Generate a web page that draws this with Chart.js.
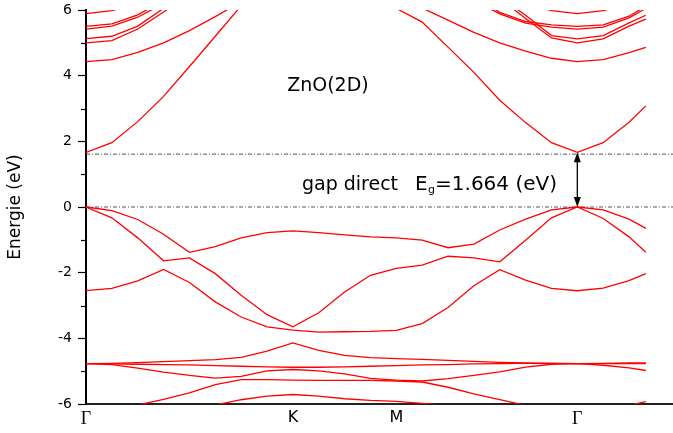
<!DOCTYPE html>
<html>
<head>
<meta charset="utf-8">
<script src="https://cdn.jsdelivr.net/npm/chart.js@4.4.1/dist/chart.umd.min.js"></script>
<style>
  html, body { margin: 0; padding: 0; background: #fff; }
  #wrap { width: 673px; height: 433px; position: relative; }
</style>
</head>
<body>
<div id="wrap"><canvas id="bands"></canvas></div>
<script>
// k-path sample points: Γ(0) -> K(8) -> M(12) -> Γ(19) -> a little past Γ
const kPath = [0, 1, 2, 3, 4, 5, 6, 7, 8, 9, 10, 11, 12, 13, 14, 15, 16, 17, 18, 19, 20, 21, 21.65];
const kTicks = [0, 8, 12, 19];
const kLabels = ['Γ', 'K', 'M', 'Γ'];
const gapEnergy = 1.664;
const gapRefLine = 1.61;

// valence bands
const vb1 = [0, -0.11, -0.38, -0.83, -1.38, -1.21, -0.94, -0.78, -0.73, -0.78, -0.85, -0.91, -0.94, -1.01, -1.24, -1.13, -0.70, -0.37, -0.09, 0, -0.09, -0.37, -0.65];
const vb2 = [0, -0.33, -0.94, -1.64, -1.55, -2.03, -2.69, -3.28, -3.65, -3.22, -2.59, -2.08, -1.87, -1.77, -1.50, -1.55, -1.67, -1.01, -0.33, 0, -0.35, -0.91, -1.38];
const vb3 = [-2.55, -2.48, -2.25, -1.90, -2.30, -2.89, -3.35, -3.65, -3.75, -3.81, -3.80, -3.79, -3.76, -3.55, -3.06, -2.40, -1.91, -2.23, -2.48, -2.55, -2.47, -2.24, -2.03];
const vb4 = [-4.77, -4.76, -4.74, -4.71, -4.68, -4.65, -4.58, -4.39, -4.14, -4.37, -4.52, -4.59, -4.62, -4.64, -4.67, -4.70, -4.73, -4.75, -4.76, -4.77, -4.77, -4.77, -4.77];
const vb5 = [-4.77, -4.78, -4.79, -4.80, -4.81, -4.83, -4.85, -4.87, -4.88, -4.88, -4.87, -4.85, -4.83, -4.81, -4.80, -4.78, -4.77, -4.76, -4.76, -4.77, -4.76, -4.75, -4.75];
const vb6 = [-4.77, -4.80, -4.91, -5.03, -5.13, -5.21, -5.16, -4.99, -4.95, -4.99, -5.08, -5.22, -5.27, -5.30, -5.23, -5.13, -5.02, -4.88, -4.79, -4.77, -4.82, -4.90, -4.98];
const vb7 = [-6.35, -6.20, -6.03, -5.86, -5.66, -5.41, -5.26, -5.26, -5.27, -5.28, -5.28, -5.28, -5.30, -5.33, -5.49, -5.69, -5.87, -6.04, -6.20, -6.30, -6.18, -6.04, -5.93];
const vb8 = [-6.60, -6.55, -6.48, -6.38, -6.20, -6.03, -5.87, -5.76, -5.71, -5.76, -5.84, -5.89, -5.92, -5.98, -6.05, -6.15, -6.25, -6.35, -6.45, -6.50, -6.45, -6.40, -6.35];

// conduction bands
const cb1 = [1.664, 1.96, 2.60, 3.37, 4.28, 5.20, 6.13, 6.90, 7.30, 7.20, 7.00, 6.60, 6.05, 5.63, 4.87, 4.10, 3.25, 2.57, 1.96, 1.664, 1.96, 2.58, 3.08];
const cb2 = [4.43, 4.49, 4.71, 5.00, 5.37, 5.80, 6.25, 6.70, 7.00, 7.00, 6.90, 6.70, 6.45, 6.06, 5.69, 5.32, 5.00, 4.75, 4.53, 4.43, 4.49, 4.70, 4.86];
const cb3 = [5.00, 5.07, 5.42, 5.94, 6.50, 7.00, 7.40, 7.70, 7.80, 7.70, 7.60, 7.50, 7.40, 7.20, 7.00, 6.80, 6.35, 5.74, 5.15, 5.00, 5.12, 5.51, 5.72];
const cb4 = [5.13, 5.20, 5.51, 6.05, 6.60, 7.10, 7.50, 7.80, 7.90, 7.80, 7.70, 7.60, 7.50, 7.30, 7.10, 6.90, 6.40, 5.84, 5.22, 5.12, 5.22, 5.61, 5.84];
const cb5 = [5.42, 5.51, 5.78, 6.20, 6.60, 7.00, 7.30, 7.50, 7.60, 7.50, 7.40, 7.20, 7.00, 6.80, 6.60, 6.30, 5.88, 5.60, 5.48, 5.42, 5.48, 5.76, 6.05];
const cb6 = [5.50, 5.58, 5.85, 6.30, 6.70, 7.10, 7.40, 7.60, 7.70, 7.60, 7.50, 7.30, 7.10, 6.90, 6.70, 6.40, 5.93, 5.65, 5.55, 5.50, 5.55, 5.81, 6.12];
const cb7 = [5.89, 5.98, 6.20, 6.50, 6.80, 7.10, 7.40, 7.60, 7.80, 7.70, 7.60, 7.40, 7.20, 7.00, 6.80, 6.60, 6.40, 6.20, 5.98, 5.89, 5.98, 6.20, 6.40];

const bands = [vb1, vb2, vb3, vb4, vb5, vb6, vb7, vb8, cb1, cb2, cb3, cb4, cb5, cb6, cb7];

const X_MAX = 22.7;
const SANS = '"DejaVu Sans", sans-serif';

const bandSets = bands.map(b => ({
    data: b.map((e, i) => ({ x: kPath[i], y: e })),
    borderColor: '#ff0000',
    borderWidth: 1.3,
    pointRadius: 0,
    tension: 0,
    order: 1
}));

const refLine = (y) => ({
    data: [{ x: 0, y: y }, { x: X_MAX, y: y }],
    borderColor: '#555555',
    borderWidth: 1,
    borderDash: [4, 2, 1, 2],
    pointRadius: 0,
    order: 2
});

// minor ticks on the energy axis + labels and the gap arrow
const decorations = {
    id: 'decorations',
    afterDatasetsDraw(chart) {
        const { ctx, scales: { x, y } } = chart;
        ctx.save();

        // minor ticks
        ctx.strokeStyle = '#000';
        ctx.lineWidth = 1.2;
        for (let v = -5; v <= 5; v += 2) {
            const py = Math.round(y.getPixelForValue(v)) + 0.5;
            ctx.beginPath();
            ctx.moveTo(x.left - 5, py);
            ctx.lineTo(x.left, py);
            ctx.stroke();
        }

        // double arrow for the gap at Γ
        const ax = x.getPixelForValue(19);
        const y0 = y.getPixelForValue(0);
        const y1 = y.getPixelForValue(gapEnergy);
        ctx.strokeStyle = '#000';
        ctx.fillStyle = '#000';
        ctx.lineWidth = 1.3;
        ctx.beginPath();
        ctx.moveTo(ax, y0 - 8);
        ctx.lineTo(ax, y1 + 8);
        ctx.stroke();
        ctx.beginPath();
        ctx.moveTo(ax, y1);
        ctx.lineTo(ax - 3.5, y1 + 10);
        ctx.lineTo(ax + 3.5, y1 + 10);
        ctx.closePath();
        ctx.fill();
        ctx.beginPath();
        ctx.moveTo(ax, y0);
        ctx.lineTo(ax - 3.5, y0 - 10);
        ctx.lineTo(ax + 3.5, y0 - 10);
        ctx.closePath();
        ctx.fill();

        // text labels
        ctx.fillStyle = '#000';
        ctx.textBaseline = 'middle';
        ctx.textAlign = 'left';
        ctx.font = '19px ' + SANS;
        ctx.fillText('ZnO(2D)', x.getPixelForValue(7.78), y.getPixelForValue(3.68));
        const ty = y.getPixelForValue(0.67);
        ctx.fillText('gap direct', x.getPixelForValue(8.35), ty);
        let tx = x.getPixelForValue(12.72);
        ctx.font = '20px ' + SANS;
        ctx.fillText('E', tx, ty);
        tx += ctx.measureText('E').width + 0.5;
        ctx.font = '11px ' + SANS;
        ctx.fillText('g', tx, ty + 5);
        tx += ctx.measureText('g').width;
        ctx.font = '20px ' + SANS;
        ctx.fillText('=1.664 (eV)', tx, ty);

        ctx.restore();
    }
};

const myChart = new Chart(document.getElementById('bands').getContext('2d'), {
    type: 'line',
    data: {
        datasets: [refLine(0), refLine(gapRefLine), ...bandSets]
    },
    options: {
        responsive: true,
        maintainAspectRatio: false,
        animation: false,
        devicePixelRatio: 1,
        layout: { padding: { top: 10, right: 0, left: 0, bottom: 0 } },
        plugins: {
            legend: { display: false },
            tooltip: { enabled: false }
        },
        scales: {
            x: {
                type: 'linear',
                min: 0,
                max: X_MAX,
                afterBuildTicks(scale) {
                    scale.ticks = kTicks.map(v => ({ value: v }));
                },
                afterFit(scale) { scale.height = 29; },
                grid: { display: false, drawTicks: false },
                border: { display: true, color: '#222', width: 2 },
                ticks: {
                    autoSkip: false,
                    maxRotation: 0,
                    padding: 4,
                    color: '#000',
                    font: (c) => (c.tick && c.tick.value % 19 === 0)
                        ? { family: '"Liberation Serif", serif', size: 18 }
                        : { family: SANS, size: 16 },
                    callback: (v) => kLabels[kTicks.indexOf(v)]
                }
            },
            y: {
                min: -6,
                max: 6,
                afterFit(scale) {
                    scale.width = 86;
                    scale.paddingTop = 0;
                    scale.paddingBottom = 0;
                },
                ticks: {
                    stepSize: 2,
                    padding: 6,
                    color: '#000',
                    font: { family: SANS, size: 14 }
                },
                grid: { drawOnChartArea: false, tickLength: 8, color: '#000', tickWidth: 1.2 },
                border: { display: true, color: '#000', width: 2 },
                title: {
                    display: true,
                    text: 'Energie (eV)',
                    color: '#000',
                    font: { family: SANS, size: 17 },
                    padding: { top: 5, bottom: 0 }
                }
            }
        }
    },
    plugins: [decorations]
});
</script>
</body>
</html>
